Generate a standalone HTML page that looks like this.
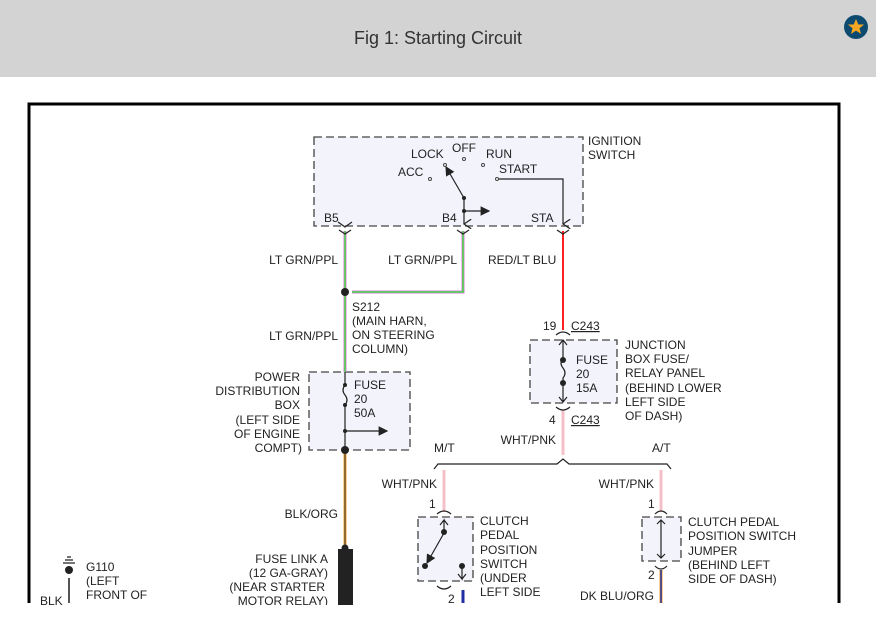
<!DOCTYPE html>
<html><head><style>
body{margin:0;width:876px;height:636px;overflow:hidden;background:#fff;font-family:"Liberation Sans",Arial,sans-serif}
.hd{position:absolute;left:0;top:0;width:876px;height:77px;background:#d3d3d3}
.hd span{position:absolute;left:0;width:876px;top:28px;text-align:center;font-size:18px;color:#333}
svg{position:absolute;left:0;top:0}
text{font-size:12px;fill:#222}
.r{text-anchor:end}
</style></head><body>
<div class="hd"><span>Fig 1: Starting Circuit</span></div>
<svg width="876" height="636">
<defs><marker id="a" markerWidth="8" markerHeight="8" refX="7" refY="4" orient="auto"><path d="M0,0L8,4L0,8z" fill="#222"/></marker>
<marker id="v" markerWidth="8" markerHeight="8" refX="4" refY="7" orient="auto"><path d="M0,1L4,7L8,1" fill="none" stroke="#222"/></marker></defs>
<g transform="translate(856,27)"><circle r="12" fill="#0d4a70"/><path d="M0,-8L2.3,-2.5L8,-2.5L3.5,1.2L5,7L0,3.6L-5,7L-3.5,1.2L-8,-2.5L-2.3,-2.5z" fill="#f5a623"/></g>
<path d="M29,603V104H839V603" fill="none" stroke="#000" stroke-width="3"/>
<g fill="#f3f3fc" stroke="#444" stroke-dasharray="8,4" stroke-width="1.3">
<rect x="314" y="137" width="269" height="89"/><rect x="309" y="372" width="101" height="78"/>
<rect x="530" y="340" width="87" height="63"/><rect x="418" y="517" width="55" height="64"/><rect x="642" y="517" width="39" height="44"/></g>
<g fill="none" stroke-width="3">
<path d="M345,231V372" stroke="#e070e0"/><path d="M345,231V372" stroke="#40e040" stroke-width="1.5"/>
<path d="M463,231V292H352" stroke="#e070e0"/><path d="M463,231V292H352" stroke="#40e040" stroke-width="1.5"/>
<path d="M563,231V330" stroke="#ff2020" stroke-width="2"/>
<path d="M345,452V548" stroke="#f0a030"/><path d="M345,452V548" stroke="#333" stroke-width="1"/>
<path d="M563,410V455M444,470V512M661,470V512" stroke="#f4c0c8"/>
<path d="M463,590V603" stroke="#2030a0"/>
<path d="M661,570V603" stroke="#f0a030"/><path d="M661,570V603" stroke="#2030a0" stroke-width="1.5"/>
</g>
<g fill="none" stroke="#222" stroke-width="1.2">
<path d="M464,198L446,167" marker-end="url(#a)"/><path d="M497,179H563V224" marker-end="url(#v)"/>
<path d="M464,198V224" marker-end="url(#v)"/><path d="M464,211H489" marker-end="url(#a)"/>
<path d="M339,230l6,4 6,-4M457,230l6,4 6,-4M557,230l6,4 6,-4M338,222l7,5 7,-5"/>
<path d="M345,372V385q-4,5 0,10t0,10V450"/><path d="M345,431H387" marker-end="url(#a)"/>
<path d="M563,340V358q-4,5 0,10t0,10V402" /><path d="M556,335q7,-6 14,0M556,407q7,6 14,0M559,345l4,-5 4,5M559,397l4,5 4,-5"/>
<path d="M434,469l4,-5H557l6,-5 6,5H667l4,5"/>
<path d="M437,514q7,-6 14,0M437,586q7,6 14,0M655,514q6,-6 12,0M655,566q6,6 12,0"/>
<path d="M444,535V520l-4,5M444,520l4,5"/><path d="M444,533L427,563" marker-end="url(#a)"/><path d="M462,567V579l-4,-5M462,579l4,-5"/>
<path d="M661,520V558M657,524l4,-4 4,4M657,554l4,4 4,-4"/>
<path d="M69,578V603" stroke="#555" stroke-width="2"/><path d="M63,563H75M65,560H73M67,557H71"/>
</g>
<g fill="#222"><circle cx="345" cy="292" r="4"/><circle cx="345" cy="450" r="4"/><circle cx="345" cy="548" r="3.5"/>
<rect x="338" y="549" width="15" height="56"/><circle cx="69" cy="570" r="4"/>
<circle cx="563" cy="360" r="3"/><circle cx="563" cy="383" r="3"/><circle cx="444" cy="532" r="3"/><circle cx="425" cy="566" r="3"/><circle cx="462" cy="566" r="3"/>
<circle cx="345" cy="385" r="2"/><circle cx="345" cy="405" r="2"/><circle cx="345" cy="431" r="2"/><circle cx="464" cy="198" r="2"/><circle cx="464" cy="211" r="2"/></g>
<g fill="#fff" stroke="#444"><circle cx="445" cy="165" r="1.5"/><circle cx="464" cy="159" r="1.5"/><circle cx="483" cy="165" r="1.5"/><circle cx="430" cy="179" r="1.5"/><circle cx="497" cy="179" r="1.5"/></g>
<text x="588" y="145">IGNITION</text><text x="588" y="159">SWITCH</text>
<text x="411" y="158">LOCK</text><text x="452" y="152">OFF</text><text x="486" y="158">RUN</text><text x="398" y="176">ACC</text><text x="499" y="173">START</text>
<text x="324" y="222">B5</text><text x="442" y="222">B4</text><text x="531" y="222">STA</text>
<text class="r" x="338" y="264">LT GRN/PPL</text><text class="r" x="457" y="264">LT GRN/PPL</text><text x="488" y="264">RED/LT BLU</text>
<text x="352" y="311">S212</text><text x="352" y="325">(MAIN HARN,</text><text x="352" y="339">ON STEERING</text><text x="352" y="353">COLUMN)</text>
<text class="r" x="338" y="340">LT GRN/PPL</text>
<text class="r" x="300" y="381">POWER</text><text class="r" x="300" y="395">DISTRIBUTION</text><text class="r" x="300" y="409">BOX</text><text class="r" x="300" y="424">(LEFT SIDE</text><text class="r" x="300" y="438">OF ENGINE</text><text class="r" x="302" y="452">COMPT)</text>
<text x="354" y="389">FUSE</text><text x="354" y="403">20</text><text x="354" y="417">50A</text>
<text class="r" x="338" y="518">BLK/ORG</text>
<text class="r" x="328" y="563">FUSE LINK A</text><text class="r" x="328" y="577">(12 GA-GRAY)</text><text class="r" x="325" y="591">(NEAR STARTER</text><text class="r" x="328" y="605">MOTOR RELAY)</text>
<text x="86" y="571">G110</text><text x="86" y="585">(LEFT</text><text x="86" y="599">FRONT OF</text><text x="40" y="605">BLK</text>
<text x="543" y="330">19</text><text x="571" y="330" text-decoration="underline">C243</text>
<text x="576" y="364">FUSE</text><text x="576" y="378">20</text><text x="576" y="392">15A</text>
<text x="625" y="349">JUNCTION</text><text x="625" y="363">BOX FUSE/</text><text x="625" y="377">RELAY PANEL</text><text x="625" y="392">(BEHIND LOWER</text><text x="625" y="406">LEFT SIDE</text><text x="625" y="420">OF DASH)</text>
<text x="549" y="424">4</text><text x="571" y="424" text-decoration="underline">C243</text>
<text class="r" x="556" y="444">WHT/PNK</text><text x="434" y="452">M/T</text><text x="652" y="452">A/T</text>
<text class="r" x="437" y="488">WHT/PNK</text><text class="r" x="654" y="488">WHT/PNK</text>
<text x="429" y="508">1</text><text x="648" y="508">1</text>
<text x="480" y="525">CLUTCH</text><text x="480" y="539">PEDAL</text><text x="480" y="554">POSITION</text><text x="480" y="568">SWITCH</text><text x="480" y="582">(UNDER</text><text x="480" y="596">LEFT SIDE</text>
<text x="448" y="603">2</text><text x="648" y="579">2</text>
<text x="688" y="526">CLUTCH PEDAL</text><text x="688" y="540">POSITION SWITCH</text><text x="688" y="555">JUMPER</text><text x="688" y="569">(BEHIND LEFT</text><text x="688" y="583">SIDE OF DASH)</text>
<text class="r" x="654" y="600">DK BLU/ORG</text>
<rect x="0" y="605" width="876" height="31" fill="#fff"/>
</svg>
</body></html>
